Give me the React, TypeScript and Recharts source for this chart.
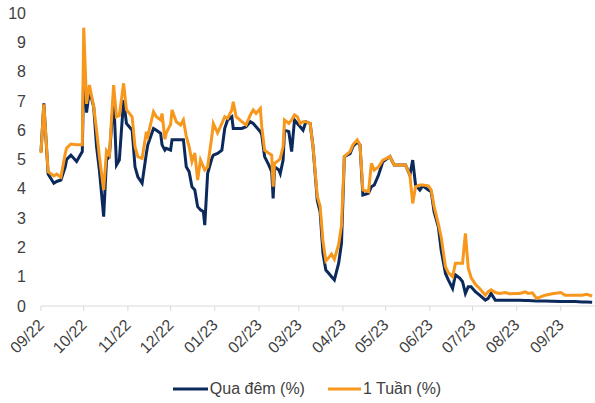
import { Legend, Line, LineChart, XAxis, YAxis } from 'recharts';

const FONT = "Arial, 'Liberation Sans', sans-serif";
const TEXT = '#404040';
const NAVY = '#0b2a5b';
const ORANGE = '#f7981d';

// ngày quan sát (xấp xỉ theo hình)
const dates = [
  '2022-09-01', '2022-09-03', '2022-09-06', '2022-09-10', '2022-09-12', '2022-09-15',
  '2022-09-18', '2022-09-19', '2022-09-22', '2022-09-26', '2022-09-30', '2022-10-01',
  '2022-10-03', '2022-10-05', '2022-10-08', '2022-10-10', '2022-10-12', '2022-10-15',
  '2022-10-17', '2022-10-19', '2022-10-22', '2022-10-24', '2022-10-26', '2022-10-29',
  '2022-10-31', '2022-11-04', '2022-11-06', '2022-11-08', '2022-11-11', '2022-11-14',
  '2022-11-15', '2022-11-19', '2022-11-21', '2022-11-24', '2022-11-25', '2022-11-27',
  '2022-11-28', '2022-12-01', '2022-12-02', '2022-12-05', '2022-12-08', '2022-12-10',
  '2022-12-12', '2022-12-14', '2022-12-16', '2022-12-18', '2022-12-20', '2022-12-22',
  '2022-12-24', '2022-12-25', '2022-12-27', '2022-12-30', '2022-12-31', '2023-01-03',
  '2023-01-06', '2023-01-08', '2023-01-10', '2023-01-13', '2023-01-14', '2023-01-16',
  '2023-01-20', '2023-01-23', '2023-01-26', '2023-01-28', '2023-01-30', '2023-02-02',
  '2023-02-03', '2023-02-05', '2023-02-08', '2023-02-10', '2023-02-11', '2023-02-12',
  '2023-02-15', '2023-02-16', '2023-02-18', '2023-02-19', '2023-02-22', '2023-02-24',
  '2023-02-26', '2023-02-28', '2023-03-02', '2023-03-04', '2023-03-06', '2023-03-09',
  '2023-03-11', '2023-03-14', '2023-03-16', '2023-03-18', '2023-03-20', '2023-03-22',
  '2023-03-24', '2023-03-26', '2023-03-29', '2023-03-31', '2023-04-02', '2023-04-06',
  '2023-04-08', '2023-04-11', '2023-04-13', '2023-04-15', '2023-04-19', '2023-04-21',
  '2023-04-23', '2023-04-26', '2023-04-29', '2023-05-04', '2023-05-07', '2023-05-11',
  '2023-05-15', '2023-05-18', '2023-05-20', '2023-05-22', '2023-05-25', '2023-05-27',
  '2023-05-31', '2023-06-02', '2023-06-04', '2023-06-07', '2023-06-09', '2023-06-12',
  '2023-06-14', '2023-06-17', '2023-06-19', '2023-06-22', '2023-06-24', '2023-06-26',
  '2023-06-28', '2023-06-30', '2023-07-03', '2023-07-06', '2023-07-10', '2023-07-12',
  '2023-07-14', '2023-07-17', '2023-07-20', '2023-07-24', '2023-07-27', '2023-07-31',
  '2023-08-03', '2023-08-07', '2023-08-09', '2023-08-12', '2023-08-15', '2023-08-21',
  '2023-08-26', '2023-09-01', '2023-09-04', '2023-09-11', '2023-09-16', '2023-09-19',
  '2023-09-23',
];

// Qua đêm (%)
const overnight = [
  5.27, 6.92, 4.5, 4.19, 4.25, 4.3,
  4.75, 5.0, 5.15, 4.93, 5.27, 8.0,
  6.6, 7.37, 6.8, 5.44, 4.64, 3.05,
  4.98, 5.1, 7.14, 4.81, 4.98, 7.03,
  6.23, 6.0, 4.75, 4.41, 4.19, 5.21,
  5.5, 6.06, 6.0, 5.89, 5.5, 5.32,
  5.38, 5.32, 5.67, 5.67, 5.67, 5.67,
  4.75, 4.58, 4.07, 3.96, 3.39, 3.28,
  3.22, 2.76, 4.52, 5.04, 5.15, 5.21,
  5.32, 6.06, 6.35, 6.46, 6.06, 6.06,
  6.06, 6.12, 6.29, 6.23, 6.12, 5.95,
  5.84, 5.1, 4.81, 4.58, 3.67, 4.75,
  4.64, 4.52, 4.98, 6.0, 5.95, 5.27,
  6.35, 6.23, 6.12, 6.0, 6.29, 6.23,
  5.44, 3.6, 3.2, 1.8, 1.23, 1.12,
  1.0, 0.89, 1.46, 2.14, 5.1, 5.2,
  5.44, 5.6, 5.5, 3.79, 3.85, 4.07,
  4.13, 4.47, 4.92, 5.1, 4.81, 4.81,
  4.81, 4.47, 4.98, 4.13, 3.96, 4.1,
  3.96, 3.9, 3.22, 2.7, 1.9, 1.11,
  0.89, 0.6, 1.06, 0.95, 0.83, 0.43,
  0.66, 0.66, 0.49, 0.37, 0.2, 0.26,
  0.43, 0.2, 0.2, 0.2, 0.2, 0.2,
  0.2, 0.19, 0.19, 0.18, 0.17, 0.17,
  0.16, 0.15, 0.15, 0.15, 0.14, 0.14,
  0.13,
];

// 1 Tuần (%)
const oneWeek = [
  5.22, 6.88, 4.58, 4.44, 4.5, 4.4,
  5.2, 5.39, 5.53, 5.5, 5.5, 9.5,
  6.9, 7.54, 6.8, 6.0, 5.1, 3.96,
  5.3, 5.15, 7.54, 6.46, 6.5, 7.6,
  6.7, 6.46, 5.44, 5.1, 5.04, 5.95,
  5.8, 6.63, 6.46, 6.35, 6.57, 5.69,
  5.91, 6.2, 6.69, 6.29, 6.18, 6.35,
  5.8, 5.44, 4.93, 5.22, 4.3, 4.98,
  4.75, 4.64, 4.75, 5.8, 6.23, 5.91,
  6.23, 6.46, 6.4, 6.69, 6.97, 6.46,
  6.29, 6.18, 6.52, 6.69, 6.57, 6.74,
  6.12, 5.32, 5.21, 5.15, 4.07, 4.87,
  4.98, 5.04, 5.44, 6.35, 6.23, 6.35,
  6.52, 6.46, 6.23, 6.29, 6.29, 6.23,
  5.44, 3.75, 3.4, 2.2, 1.54, 1.65,
  1.77, 1.6, 2.1, 2.75, 5.1, 5.27,
  5.5, 5.67, 5.5, 3.96, 3.9, 4.87,
  4.64, 4.75, 4.98, 5.1, 4.81, 4.81,
  4.81, 4.47, 3.5, 4.07, 4.13, 4.13,
  4.1, 3.96, 3.4, 2.8, 2.35, 1.34,
  1.14, 1.0, 1.46, 1.46, 1.46, 2.48,
  1.3, 0.97, 0.74, 0.6, 0.37, 0.49,
  0.55, 0.46, 0.43, 0.46, 0.42, 0.43,
  0.43, 0.48, 0.43, 0.45, 0.26, 0.37,
  0.42, 0.46, 0.37, 0.37, 0.37, 0.4,
  0.34,
];

const tickDates = [
  '2022-09-01', '2022-10-01', '2022-11-01', '2022-12-01', '2023-01-01', '2023-02-01',
  '2023-03-01', '2023-04-01', '2023-05-01', '2023-06-01', '2023-07-01', '2023-08-01',
  '2023-09-01',
];
const tickLabels = [
  '09/22', '10/22', '11/22', '12/22', '01/23', '02/23', '03/23', '04/23', '05/23',
  '06/23', '07/23', '08/23', '09/23',
];
const yTicks = [0, 1, 2, 3, 4, 5, 6, 7, 8, 9, 10];

const START = Date.UTC(2022, 8, 1);
const toDay = (s: string) => {
  const [y, m, d] = s.split('-').map(Number);
  return Math.round((Date.UTC(y, m - 1, d) - START) / 86400000);
};

const tickDays = tickDates.map(toDay);

const data = dates.map((d, i) => ({
  day: toDay(d),
  overnight: overnight[i],
  oneWeek: oneWeek[i],
}));

function MonthTick({ x = 0, y = 0, payload }: any) {
  const label = tickLabels[tickDays.indexOf(payload?.value)] ?? '';
  const px = x + 4;
  const py = y + 13;
  return (
    <text
      x={px}
      y={py}
      transform={`rotate(-45, ${px}, ${py})`}
      textAnchor="end"
      fontSize={16}
      fontFamily={FONT}
      fill={TEXT}
    >
      {label}
    </text>
  );
}

function LegendItem({ color, label, width }: { color: string; label: string; width: number }) {
  return (
    <div style={{ display: 'flex', alignItems: 'center' }}>
      <svg width={width} height={10}>
        <line x1={0} y1={5} x2={width} y2={5} stroke={color} strokeWidth={3} />
      </svg>
      <span style={{ marginLeft: 2 }}>{label}</span>
    </div>
  );
}

function RateLegend() {
  return (
    <div
      style={{
        display: 'flex',
        justifyContent: 'center',
        alignItems: 'center',
        gap: 23,
        height: 24,
        paddingLeft: 19,
        fontSize: 16,
        fontFamily: FONT,
        color: TEXT,
      }}
    >
      <LegendItem color={NAVY} label="Qua đêm (%)" width={35} />
      <LegendItem color={ORANGE} label="1 Tuần (%)" width={33} />
    </div>
  );
}

export default function App() {
  return (
    <div style={{ position: 'absolute', left: 0, top: 0, width: 595, height: 403, background: '#fff' }}>
      <LineChart width={595} height={403} data={data} margin={{ top: 13, right: 0, left: 0, bottom: 2 }}>
        <XAxis
          dataKey="day"
          type="number"
          domain={[0, 389]}
          ticks={tickDays}
          interval={0}
          height={71}
          tick={<MonthTick />}
          tickSize={5}
          tickMargin={2}
          axisLine={{ stroke: '#d9d9d9' }}
          tickLine={{ stroke: '#d9d9d9' }}
        />
        <YAxis
          domain={[0, 10]}
          ticks={yTicks}
          interval={0}
          width={41}
          axisLine={false}
          tickLine={false}
          tickSize={0}
          tickMargin={15}
          tick={{ fill: TEXT, fontSize: 16, fontFamily: FONT }}
        />
        <Legend verticalAlign="bottom" height={24} content={<RateLegend />} />
        <Line
          type="linear"
          dataKey="overnight"
          name="Qua đêm (%)"
          stroke={NAVY}
          strokeWidth={3}
          dot={false}
          isAnimationActive={false}
        />
        <Line
          type="linear"
          dataKey="oneWeek"
          name="1 Tuần (%)"
          stroke={ORANGE}
          strokeWidth={3}
          dot={false}
          isAnimationActive={false}
        />
      </LineChart>
    </div>
  );
}
